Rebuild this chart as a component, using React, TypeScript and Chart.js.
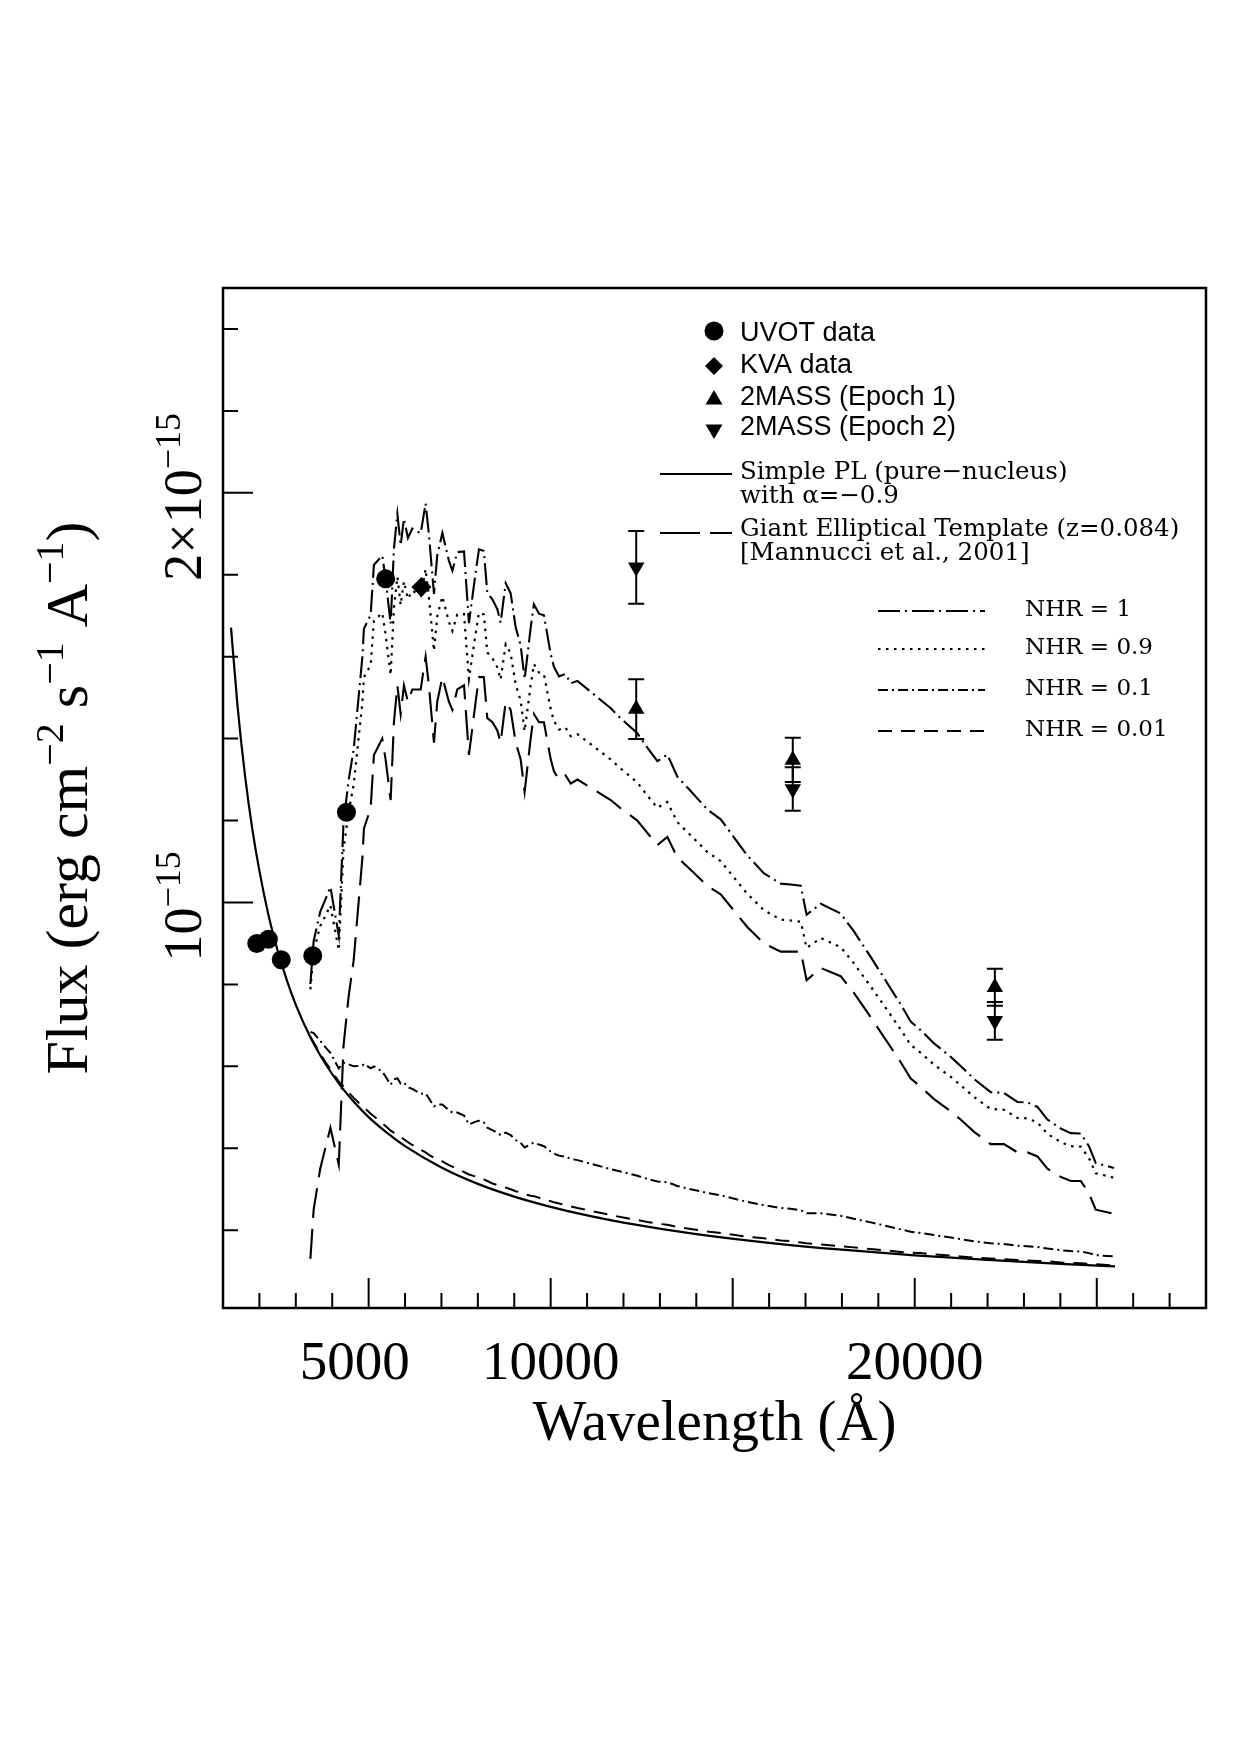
import React, { useEffect, useRef } from 'react';
import { Chart, registerables } from 'chart.js';

Chart.register(...registerables);

// ---------- axis ranges (wavelength in Å, flux in 1e-15 erg cm^-2 s^-1 A^-1) ----------
const xMin = 1000;
const xMax = 28000;
const yMin = 0.01;
const yMax = 2.5;

const xMinorTicks = [2000, 3000, 4000, 6000, 7000, 8000, 9000, 11000, 12000, 13000, 14000, 16000, 17000, 18000, 19000, 21000, 22000, 23000, 24000, 26000, 27000];
const xMajorTicks = [5000, 10000, 15000, 20000, 25000];
const xTickLabelValues = [5000, 10000, 20000];
const xTickLabels = ['5000', '10000', '20000'];

const yMinorTicks = [0.2, 0.4, 0.6, 0.8, 1.2, 1.4, 1.6, 1.8, 2.2, 2.4];
const yMajorTicks = [1, 2];
const yTickLabelValues = [1, 2];
const yTickLabelBases = ['10', '2\u00d710'];
const yTickLabelExps = ['\u221215', '\u221215'];

// ---------- simple power law (pure nucleus) ----------
const plWave = [1220, 1400, 1600, 1800, 2000, 2250, 2500, 2750, 3000, 3400, 3800, 4200, 4600, 5000, 5500, 6000, 7000, 8000, 9000, 10000, 11000, 12000, 14000, 16000, 18000, 20000, 22000, 24000, 25500];
const plFlux = [1.671, 1.479, 1.313, 1.182, 1.077, 0.969, 0.883, 0.811, 0.750, 0.671, 0.608, 0.556, 0.513, 0.476, 0.438, 0.405, 0.353, 0.313, 0.282, 0.257, 0.236, 0.2185, 0.1905, 0.1692, 0.1523, 0.1387, 0.1274, 0.1179, 0.1117];

// ---------- giant elliptical template and models ----------
const tplWave = [3400, 3490, 3670, 3810, 3950, 4180, 4310, 4450, 4590, 4830,
  4870, 5055, 5145, 5375, 5465, 5605, 5695, 5790, 5880, 5970,
  6080, 6200, 6430, 6565, 6655, 6795, 6885, 7025, 7205, 7300,
  7435, 7620, 7755, 7940, 8030, 8165, 8260, 8400, 8535, 8625,
  8765, 8900, 9040, 9175, 9285, 9450, 9540, 9680, 9815, 10000,
  10090, 10230, 10410, 10550, 10735, 11650, 11920, 12380, 12655, 12930,
  13205, 13480, 13845, 14305, 14670, 15400, 15860, 16320, 16590, 16870,
  17030, 17420, 17965, 18325, 18790, 19615, 19890, 20165, 20530, 20990,
  21260, 21630, 22085, 22450, 22820, 23095, 23370, 23645, 24010, 24285,
  24560, 24785, 24970, 25475];

const tplFlux = [0.13, 0.25, 0.35, 0.40, 0.45, 0.36, 0.65, 0.77, 0.86, 1.11,
  1.18, 1.23, 1.36, 1.40, 1.35, 1.25, 1.44, 1.53, 1.46, 1.53,
  1.49, 1.52, 1.52, 1.60, 1.53, 1.39, 1.49, 1.55, 1.49, 1.47,
  1.52, 1.53, 1.36, 1.49, 1.55, 1.55, 1.45, 1.44, 1.42, 1.39,
  1.49, 1.47, 1.39, 1.35, 1.27, 1.40, 1.46, 1.44, 1.44, 1.35,
  1.32, 1.30, 1.31, 1.29, 1.30, 1.25, 1.23, 1.20, 1.17, 1.14,
  1.16, 1.11, 1.08, 1.04, 1.02, 0.94, 0.90, 0.88, 0.88, 0.88,
  0.81, 0.84, 0.82, 0.78, 0.72, 0.61, 0.57, 0.55, 0.52, 0.49,
  0.47, 0.44, 0.41, 0.41, 0.39, 0.39, 0.38, 0.35, 0.33, 0.32,
  0.32, 0.29, 0.25, 0.24];

const nhr1Flux = [0.801, 0.906, 0.977, 1.007, 1.038, 0.919, 1.194, 1.298, 1.374, 1.601,
  1.668, 1.702, 1.824, 1.847, 1.790, 1.680, 1.864, 1.948, 1.872, 1.937,
  1.890, 1.913, 1.901, 1.974, 1.899, 1.753, 1.848, 1.902, 1.834, 1.810,
  1.855, 1.857, 1.682, 1.806, 1.862, 1.858, 1.755, 1.740, 1.716, 1.683,
  1.779, 1.755, 1.671, 1.628, 1.545, 1.670, 1.728, 1.705, 1.701, 1.607,
  1.575, 1.552, 1.558, 1.535, 1.541, 1.474, 1.450, 1.413, 1.378, 1.345,
  1.361, 1.307, 1.272, 1.227, 1.203, 1.115, 1.071, 1.046, 1.044, 1.041,
  0.970, 0.997, 0.973, 0.930, 0.867, 0.751, 0.709, 0.688, 0.656, 0.623,
  0.601, 0.569, 0.537, 0.535, 0.513, 0.512, 0.501, 0.470, 0.448, 0.437,
  0.436, 0.405, 0.364, 0.352];

const nhr09Flux = [0.788, 0.881, 0.942, 0.967, 0.993, 0.883, 1.129, 1.221, 1.288, 1.490,
  1.550, 1.579, 1.688, 1.707, 1.655, 1.555, 1.720, 1.795, 1.726, 1.784,
  1.741, 1.761, 1.749, 1.814, 1.746, 1.614, 1.699, 1.747, 1.685, 1.663,
  1.703, 1.704, 1.546, 1.657, 1.707, 1.703, 1.610, 1.596, 1.574, 1.544,
  1.630, 1.608, 1.532, 1.493, 1.418, 1.530, 1.582, 1.561, 1.557, 1.472,
  1.443, 1.422, 1.427, 1.406, 1.411, 1.349, 1.327, 1.293, 1.261, 1.231,
  1.245, 1.196, 1.164, 1.123, 1.101, 1.021, 0.981, 0.958, 0.956, 0.953,
  0.889, 0.913, 0.891, 0.852, 0.795, 0.690, 0.652, 0.633, 0.604, 0.574,
  0.554, 0.525, 0.496, 0.494, 0.474, 0.473, 0.463, 0.435, 0.415, 0.405,
  0.404, 0.376, 0.339, 0.328];

const nhr01Flux = [0.684, 0.681, 0.662, 0.647, 0.633, 0.595, 0.609, 0.605, 0.600, 0.602,
  0.606, 0.595, 0.600, 0.587, 0.575, 0.555, 0.568, 0.571, 0.558, 0.560,
  0.549, 0.545, 0.533, 0.534, 0.522, 0.502, 0.507, 0.507, 0.493, 0.487,
  0.487, 0.480, 0.458, 0.465, 0.467, 0.463, 0.450, 0.444, 0.438, 0.432,
  0.438, 0.432, 0.420, 0.413, 0.402, 0.410, 0.414, 0.409, 0.405, 0.392,
  0.387, 0.382, 0.379, 0.374, 0.371, 0.349, 0.343, 0.333, 0.325, 0.319,
  0.317, 0.308, 0.300, 0.291, 0.285, 0.269, 0.261, 0.254, 0.252, 0.249,
  0.241, 0.241, 0.235, 0.228, 0.219, 0.202, 0.196, 0.193, 0.188, 0.182,
  0.178, 0.173, 0.168, 0.166, 0.162, 0.161, 0.159, 0.155, 0.151, 0.149,
  0.148, 0.144, 0.139, 0.136];

const nhr001Flux = [0.672, 0.659, 0.631, 0.611, 0.593, 0.563, 0.551, 0.536, 0.523, 0.502,
  0.500, 0.484, 0.478, 0.461, 0.454, 0.443, 0.438, 0.433, 0.427, 0.422,
  0.415, 0.408, 0.396, 0.390, 0.384, 0.377, 0.373, 0.368, 0.359, 0.355,
  0.350, 0.342, 0.336, 0.331, 0.328, 0.324, 0.320, 0.314, 0.310, 0.307,
  0.304, 0.300, 0.295, 0.292, 0.288, 0.284, 0.283, 0.279, 0.275, 0.271,
  0.268, 0.265, 0.261, 0.258, 0.254, 0.237, 0.232, 0.225, 0.220, 0.216,
  0.213, 0.208, 0.203, 0.197, 0.193, 0.184, 0.180, 0.175, 0.173, 0.170,
  0.168, 0.165, 0.161, 0.158, 0.154, 0.147, 0.145, 0.144, 0.141, 0.138,
  0.136, 0.133, 0.131, 0.129, 0.127, 0.126, 0.125, 0.124, 0.121, 0.120,
  0.119, 0.118, 0.117, 0.114];

// ---------- photometry ----------
const uvotWave = [1928, 2246, 2600, 3465, 4392, 5468];
const uvotFlux = [0.90, 0.91, 0.86, 0.87, 1.22, 1.79];
const kvaWave = [6450];
const kvaFlux = [1.77];
const mass1Wave = [12350, 16650, 22200];
const mass1Flux = [1.472, 1.348, 0.793];
const mass1Err = [0.073, 0.054, 0.045];
const mass2Wave = [12350, 16650, 22200];
const mass2Flux = [1.818, 1.277, 0.711];
const mass2Err = [0.089, 0.053, 0.046];

// ---------- legend texts ----------
const symbolLegend = ['UVOT data', 'KVA data', '2MASS (Epoch 1)', '2MASS (Epoch 2)'];
const plLegend = ['Simple PL (pure\u2212nucleus)', 'with \u03b1=\u22120.9'];
const tplLegend = ['Giant Elliptical Template (z=0.084)', '[Mannucci et al., 2001]'];
const nhrLegend = ['NHR = 1', 'NHR = 0.9', 'NHR = 0.1', 'NHR = 0.01'];

const W = 1240;
const H = 1755;
const SERIF_BIG = '"Liberation Serif", "DejaVu Serif", serif';
const SERIF_LEG = '"DejaVu Serif", "Liberation Serif", serif';
const SANS = '"Liberation Sans", Arial, sans-serif';

const DASH_TPL = [30, 11];
const DASH_NHR1 = [22, 5, 2, 5];
const DASH_NHR09 = [2.5, 5.5];
const DASH_NHR01 = [10, 4, 2, 4];
const DASH_NHR001 = [14, 9];

const pts = (xs: number[], ys: number[]) => xs.map((x, i) => ({ x, y: ys[i] }));

function drawRich(ctx: CanvasRenderingContext2D, parts: [string, boolean][], cx: number, baseY: number, size: number, supSize: number, raise: number, family: string) {
  const widths = parts.map(([t, sup]) => {
    ctx.font = `${sup ? supSize : size}px ${family}`;
    return ctx.measureText(t).width;
  });
  const total = widths.reduce((a, b) => a + b, 0);
  let x = cx - total / 2;
  ctx.textAlign = 'left';
  ctx.textBaseline = 'alphabetic';
  parts.forEach(([t, sup], i) => {
    ctx.font = `${sup ? supSize : size}px ${family}`;
    ctx.fillText(t, x, sup ? baseY - raise : baseY);
    x += widths[i];
  });
}

const decorPlugin = {
  id: 'decor',
  afterDatasetsDraw(chart: any) {
    const ctx: CanvasRenderingContext2D = chart.ctx;
    const a = chart.chartArea;
    const xs = chart.scales.x;
    const ys = chart.scales.y;
    ctx.save();
    ctx.strokeStyle = '#000';
    ctx.fillStyle = '#000';
    ctx.setLineDash([]);

    // error bars
    ctx.lineWidth = 2;
    const errBars = (w: number[], f: number[], e: number[]) => {
      w.forEach((wv, i) => {
        const px = xs.getPixelForValue(wv);
        const t = ys.getPixelForValue(f[i] + e[i]);
        const b = ys.getPixelForValue(f[i] - e[i]);
        ctx.beginPath();
        ctx.moveTo(px, t); ctx.lineTo(px, b);
        ctx.moveTo(px - 8, t); ctx.lineTo(px + 8, t);
        ctx.moveTo(px - 8, b); ctx.lineTo(px + 8, b);
        ctx.stroke();
      });
    };
    errBars(mass1Wave, mass1Flux, mass1Err);
    errBars(mass2Wave, mass2Flux, mass2Err);

    // frame
    ctx.lineWidth = 2.5;
    ctx.strokeRect(a.left, a.top, a.right - a.left, a.bottom - a.top);

    // ticks
    ctx.lineWidth = 2;
    ctx.beginPath();
    xMinorTicks.forEach((v) => { const p = xs.getPixelForValue(v); ctx.moveTo(p, a.bottom); ctx.lineTo(p, a.bottom - 15); });
    xMajorTicks.forEach((v) => { const p = xs.getPixelForValue(v); ctx.moveTo(p, a.bottom); ctx.lineTo(p, a.bottom - 30); });
    yMinorTicks.forEach((v) => { const p = ys.getPixelForValue(v); ctx.moveTo(a.left, p); ctx.lineTo(a.left + 15, p); });
    yMajorTicks.forEach((v) => { const p = ys.getPixelForValue(v); ctx.moveTo(a.left, p); ctx.lineTo(a.left + 30, p); });
    ctx.stroke();

    // x tick labels
    ctx.font = `55px ${SERIF_BIG}`;
    ctx.textAlign = 'center';
    ctx.textBaseline = 'alphabetic';
    xTickLabelValues.forEach((v, i) => {
      const p = xs.getPixelForValue(v) - (i === 0 ? 14 : 0);
      ctx.fillText(xTickLabels[i], p, a.bottom + 71);
    });

    // y tick labels (rotated)
    yTickLabelValues.forEach((v, i) => {
      const p = ys.getPixelForValue(v);
      ctx.save();
      ctx.translate(a.left - 22, p + 4);
      ctx.rotate(-Math.PI / 2);
      drawRich(ctx, [[yTickLabelBases[i], false], [yTickLabelExps[i], true]], 0, 0, 54, 36, 21, SERIF_BIG);
      ctx.restore();
    });

    // axis titles
    ctx.font = `57px ${SERIF_BIG}`;
    ctx.textAlign = 'center';
    ctx.textBaseline = 'alphabetic';
    ctx.fillText('Wavelength (\u00c5)', (a.left + a.right) / 2, a.bottom + 132);

    ctx.save();
    ctx.translate(a.left - 136, (a.top + a.bottom) / 2);
    ctx.rotate(-Math.PI / 2);
    drawRich(ctx, [['Flux (erg cm', false], ['\u22122', true], [' s', false], ['\u22121', true], [' A', false], ['\u22121', true], [')', false]], 0, 0, 60, 40, 24, SERIF_BIG);
    ctx.restore();

    // ----- legend -----
    const lx = a.left + 491; // symbol centre x
    const tx = a.left + 517; // text left x
    const symY = [a.top + 43, a.top + 78, a.top + 111, a.top + 142];
    ctx.fillStyle = '#000';
    ctx.beginPath(); ctx.arc(lx, symY[0], 9.5, 0, Math.PI * 2); ctx.fill();
    ctx.beginPath();
    ctx.moveTo(lx, symY[1] - 9); ctx.lineTo(lx + 9, symY[1]); ctx.lineTo(lx, symY[1] + 9); ctx.lineTo(lx - 9, symY[1]); ctx.closePath(); ctx.fill();
    ctx.beginPath();
    ctx.moveTo(lx, symY[2] - 9); ctx.lineTo(lx + 8.5, symY[2] + 5.5); ctx.lineTo(lx - 8.5, symY[2] + 5.5); ctx.closePath(); ctx.fill();
    ctx.beginPath();
    ctx.moveTo(lx, symY[3] + 9); ctx.lineTo(lx + 8.5, symY[3] - 5.5); ctx.lineTo(lx - 8.5, symY[3] - 5.5); ctx.closePath(); ctx.fill();

    ctx.font = `27px ${SANS}`;
    ctx.textAlign = 'left';
    ctx.textBaseline = 'middle';
    const symTextY = [a.top + 46, a.top + 78, a.top + 110, a.top + 140];
    symbolLegend.forEach((t, i) => ctx.fillText(t, tx, symTextY[i]));

    // PL + template legend
    ctx.lineWidth = 2;
    ctx.beginPath(); ctx.setLineDash([]); ctx.moveTo(a.left + 437, a.top + 186); ctx.lineTo(a.left + 509, a.top + 186); ctx.stroke();
    ctx.beginPath(); ctx.setLineDash([40, 10]); ctx.moveTo(a.left + 437, a.top + 245); ctx.lineTo(a.left + 509, a.top + 245); ctx.stroke();
    ctx.setLineDash([]);
    ctx.font = `24.5px ${SERIF_LEG}`;
    ctx.fillText(plLegend[0], tx, a.top + 185);
    ctx.fillText(plLegend[1], tx, a.top + 209);
    ctx.fillText(tplLegend[0], tx, a.top + 242);
    ctx.fillText(tplLegend[1], tx, a.top + 266);

    // NHR legend
    const nhrDash = [DASH_NHR1, DASH_NHR09, DASH_NHR01, DASH_NHR001];
    const nhrY = [a.top + 323, a.top + 361, a.top + 402, a.top + 443];
    nhrDash.forEach((d, i) => {
      ctx.beginPath(); ctx.setLineDash(d);
      ctx.moveTo(a.left + 655, nhrY[i]); ctx.lineTo(a.left + 762, nhrY[i]); ctx.stroke();
    });
    ctx.setLineDash([]);
    ctx.font = `23px ${SERIF_LEG}`;
    nhrLegend.forEach((t, i) => ctx.fillText(t, a.left + 802, nhrY[i] - 1));

    ctx.restore();
  },
};

export default function App() {
  const ref = useRef<HTMLCanvasElement>(null);
  useEffect(() => {
    if (!ref.current) return;
    const lineDs = (xsv: number[], ysv: number[], dash: number[], width: number, extra: any = {}) => ({
      type: 'line',
      data: pts(xsv, ysv),
      borderColor: '#000',
      backgroundColor: '#000',
      borderWidth: width,
      borderDash: dash,
      borderCapStyle: 'butt',
      pointRadius: 0,
      fill: false,
      tension: 0,
      ...extra,
    });
    const markDs = (xsv: number[], ysv: number[], style: string, radius: number, rotation = 0) => ({
      type: 'line',
      data: pts(xsv, ysv),
      showLine: false,
      pointStyle: style,
      pointRadius: radius,
      pointRotation: rotation,
      pointBackgroundColor: '#000',
      pointBorderColor: '#000',
      pointBorderWidth: 0,
      borderColor: '#000',
      backgroundColor: '#000',
    });
    const chart = new Chart(ref.current, {
      type: 'line',
      data: {
        datasets: [
          markDs(uvotWave, uvotFlux, 'circle', 9.5) as any,
          markDs(kvaWave, kvaFlux, 'rectRot', 10) as any,
          markDs(mass1Wave, mass1Flux, 'triangle', 9.5) as any,
          markDs(mass2Wave, mass2Flux, 'triangle', 9.5, 180) as any,
          lineDs(plWave, plFlux, [], 2.2, { cubicInterpolationMode: 'monotone' }) as any,
          lineDs(tplWave, tplFlux, DASH_TPL, 2.1) as any,
          lineDs(tplWave, nhr1Flux, DASH_NHR1, 2.1) as any,
          lineDs(tplWave, nhr09Flux, DASH_NHR09, 2.2) as any,
          lineDs(tplWave, nhr01Flux, DASH_NHR01, 2) as any,
          lineDs(tplWave, nhr001Flux, DASH_NHR001, 2) as any,
        ],
      },
      options: {
        animation: false,
        responsive: false,
        devicePixelRatio: 1,
        layout: { padding: { left: 223, top: 288, right: 34, bottom: 447 } },
        plugins: { legend: { display: false }, tooltip: { enabled: false } },
        events: [],
        scales: {
          x: { type: 'linear', min: xMin, max: xMax, display: false },
          y: { type: 'linear', min: yMin, max: yMax, display: false },
        },
      },
      plugins: [decorPlugin],
    } as any);
    return () => chart.destroy();
  }, []);
  return (
    <div style={{ position: 'absolute', left: 0, top: 0, width: W, height: H, background: '#fff' }}>
      <canvas ref={ref} width={W} height={H} style={{ width: W, height: H, display: 'block' }} />
    </div>
  );
}
